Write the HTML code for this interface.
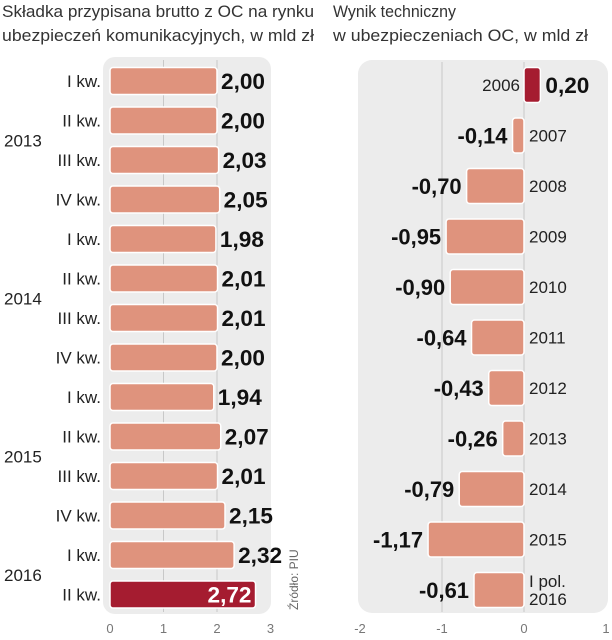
<!DOCTYPE html>
<html><head><meta charset="utf-8"><style>
html,body{margin:0;padding:0;background:#fff;}
svg{display:block;font-family:"Liberation Sans Narrow","Liberation Sans",sans-serif;}
</style></head><body>
<svg id="c" width="612" height="640" viewBox="0 0 612 640" xmlns="http://www.w3.org/2000/svg">
<text x="2" y="17" font-size="17" fill="#333" textLength="312" lengthAdjust="spacingAndGlyphs">Składka przypisana brutto z OC na rynku</text>
<text x="2" y="41" font-size="17" fill="#333" textLength="312" lengthAdjust="spacingAndGlyphs">ubezpieczeń komunikacyjnych, w mld zł</text>
<text x="333" y="17" font-size="17" fill="#333" textLength="123" lengthAdjust="spacingAndGlyphs">Wynik techniczny</text>
<text x="333" y="41" font-size="17" fill="#333" textLength="255" lengthAdjust="spacingAndGlyphs">w ubezpieczeniach OC, w mld zł</text>
<rect x="103" y="57" width="168" height="557" rx="12" fill="#ececec"/>
<rect x="358" y="60" width="250" height="553" rx="14" fill="#ececec"/>
<text transform="translate(298,610) rotate(-90)" font-size="12" fill="#666">Źródło: PIU</text>
<g id="L"></g><g id="R"></g>
</svg>
<script>
const leftQuarters=["I kw.","II kw.","III kw.","IV kw.","I kw.","II kw.","III kw.","IV kw.","I kw.","II kw.","III kw.","IV kw.","I kw.","II kw."];
const leftValues=[2.00,2.00,2.03,2.05,1.98,2.01,2.01,2.00,1.94,2.07,2.01,2.15,2.32,2.72];
const leftYears=["2013","2014","2015","2016"];
const leftTicks=[0,1,2,3];
const rightYears=["2006","2007","2008","2009","2010","2011","2012","2013","2014","2015","I pol.|2016"];
const rightValues=[0.20,-0.14,-0.70,-0.95,-0.90,-0.64,-0.43,-0.26,-0.79,-1.17,-0.61];
const rightTicks=[-2,-1,0,1];

const NS="http://www.w3.org/2000/svg";
function mk(p,tag,a,t){const e=document.createElementNS(NS,tag);for(const k in a)e.setAttribute(k,a[k]);if(t!==undefined)e.textContent=t;p.appendChild(e);return e;}
const fmt=v=>v.toFixed(2).replace('.',',');

// Left chart
const L=document.getElementById('L');
const lx=v=>110+v*53.5;
const ly=i=>81+i*39.5;
[1,2].forEach(t=>{const g=mk(L,'line',{x1:lx(t),x2:lx(t),y1:60,y2:612,stroke:'#c8c8c8','stroke-width':1});

});
leftTicks.forEach(t=>{const e=mk(L,'text',{x:lx(t),y:633,'font-size':13,fill:'#777','text-anchor':'middle'},String(t));

});
leftValues.forEach((v,i)=>{
  const last=i===leftValues.length-1;
  const r=mk(L,'rect',{x:lx(0),y:ly(i)-13.5,width:lx(v)-lx(0),height:27,rx:3,fill:last?'#a51c30':'#df937d',stroke:'#fff','stroke-width':1.5});
  
  
  const q=mk(L,'text',{x:101,y:ly(i)+6,'font-size':17,fill:'#222','text-anchor':'end'},leftQuarters[i]);
  
  
  const lab=mk(L,'text',{x:last?lx(v)-4-44:lx(v)+4,y:ly(i)+8,'font-size':22,'font-weight':'bold',fill:last?'#fff':'#111',textLength:44,lengthAdjust:'spacingAndGlyphs'},fmt(v));
  
  
});
leftYears.forEach((y,k)=>{const i=k<3?k*4+1.5:12.5;
const e=mk(L,'text',{x:4,y:ly(i)+6,'font-size':17,fill:'#222'},y);

});

// Right chart
const R=document.getElementById('R');
const rx=v=>524+v*82;
const ry=i=>85+i*50.5;
const gl=mk(R,'line',{x1:rx(-1),x2:rx(-1),y1:62,y2:612,stroke:'#c8c8c8','stroke-width':1});


const zl=mk(R,'line',{x1:rx(0),x2:rx(0),y1:62,y2:612,stroke:'#c8c8c8','stroke-width':1});


rightTicks.forEach(t=>{const e=mk(R,'text',{x:rx(t),y:633,'font-size':13,fill:'#777','text-anchor':'middle'},t===0?'0':String(t));

});
rightValues.forEach((v,i)=>{
  const pos=v>=0;
  const x0=Math.min(rx(0),rx(v)),w=Math.abs(rx(v)-rx(0));
  const r=mk(R,'rect',{x:x0,y:ry(i)-17.5,width:w,height:35,rx:3,fill:pos?'#a51c30':'#df937d',stroke:'#fff','stroke-width':1.5});
  
  
  const tw=pos?44:50;
  const lab=mk(R,'text',{x:pos?rx(v)+5:rx(v)-5-tw,y:ry(i)+8,'font-size':22,'font-weight':'bold',fill:'#111',textLength:tw,lengthAdjust:'spacingAndGlyphs'},fmt(v));
  
  
  const parts=rightYears[i].split('|');
  if(parts.length>1){
    const a=mk(R,'text',{x:rx(0)+5,y:ry(i)-3,'font-size':17,fill:'#222'},parts[0]);
    
    
    const b=mk(R,'text',{x:rx(0)+5,y:ry(i)+15,'font-size':17,fill:'#222'},parts[1]);
    
    
  } else {
    const e=mk(R,'text',{x:pos?rx(0)-4:rx(0)+5,y:ry(i)+6,'font-size':17,fill:'#222','text-anchor':pos?'end':'start'},parts[0]);
    
    
  }
});
</script>
</body></html>
